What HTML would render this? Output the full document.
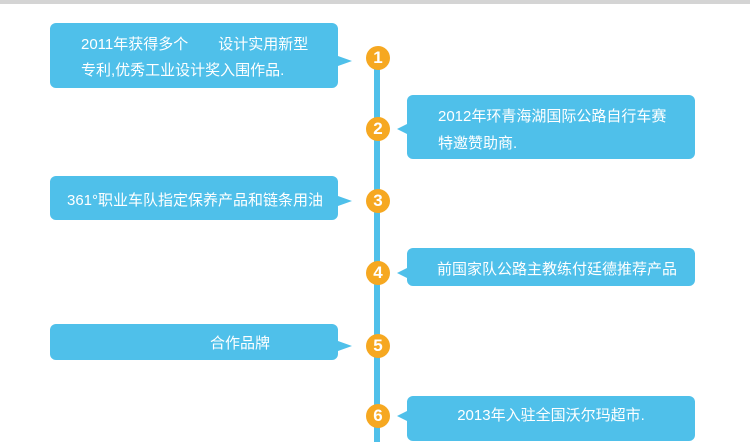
<!DOCTYPE html>
<html><head><meta charset="utf-8"><style>
body{margin:0;width:750px;height:433px;background:#fff;position:relative;overflow:hidden;font-family:"Liberation Sans","Noto Sans CJK SC",sans-serif;}
.top{position:absolute;left:0;top:0;width:750px;height:4px;background:#d4d4d4;}
.line{position:absolute;left:374px;top:62px;width:6px;height:380px;background:#4fc0ea;}
.c{position:absolute;width:24px;height:24px;border-radius:50%;background:#f6a821;color:#fff;font-weight:bold;font-size:17px;line-height:24px;text-align:center;}
.b{position:absolute;background:#4fc0ea;border-radius:6px;color:#fff;font-size:15px;line-height:24px;}
.tl::after{content:"";position:absolute;right:-14px;border-left:14px solid #4fc0ea;border-top:5px solid transparent;border-bottom:5px solid transparent;}
.tr::after{content:"";position:absolute;left:-10px;border-right:10px solid #4fc0ea;border-top:5px solid transparent;border-bottom:5px solid transparent;}
</style></head><body>
<div class="top"></div>
<div class="line"></div>
<div class="b tl" style="left:50px;top:23px;width:288px;height:65px;"><div style="position:absolute;left:31px;top:9px;line-height:26px;white-space:nowrap">2011年获得多个　　设计实用新型<br>专利,优秀工业设计奖入围作品.</div></div>
<div class="b tr" style="left:407px;top:95px;width:288px;height:64px;"><div style="position:absolute;left:31px;top:8px;line-height:27px;white-space:nowrap">2012年环青海湖国际公路自行车赛<br>特邀赞助商.</div></div>
<div class="b tl" style="left:50px;top:176px;width:288px;height:44px;"><div style="position:absolute;left:17px;top:13px;white-space:nowrap">361°职业车队指定保养产品和链条用油</div></div>
<div class="b tr" style="left:407px;top:248px;width:288px;height:38px;"><div style="position:absolute;left:30px;top:10px;white-space:nowrap">前国家队公路主教练付廷德推荐产品</div></div>
<div class="b tl" style="left:50px;top:324px;width:288px;height:36px;"><div style="position:absolute;left:160px;top:8px;white-space:nowrap">合作品牌</div></div>
<div class="b tr" style="left:407px;top:396px;width:288px;height:45px;"><div style="position:absolute;left:0;width:288px;text-align:center;top:8px;">2013年入驻全国沃尔玛超市.</div></div>
<div class="c" style="left:366px;top:46px">1</div>
<div class="c" style="left:366px;top:117px">2</div>
<div class="c" style="left:366px;top:189px">3</div>
<div class="c" style="left:366px;top:261px">4</div>
<div class="c" style="left:366px;top:334px">5</div>
<div class="c" style="left:366px;top:404px">6</div>
<style>
body>.b:nth-of-type(3)::after{top:33px}
body>.b:nth-of-type(4)::after{top:29px}
body>.b:nth-of-type(5)::after{top:20px}
body>.b:nth-of-type(6)::after{top:20px}
body>.b:nth-of-type(7)::after{top:17px}
body>.b:nth-of-type(8)::after{top:15px}
</style>
</body></html>
